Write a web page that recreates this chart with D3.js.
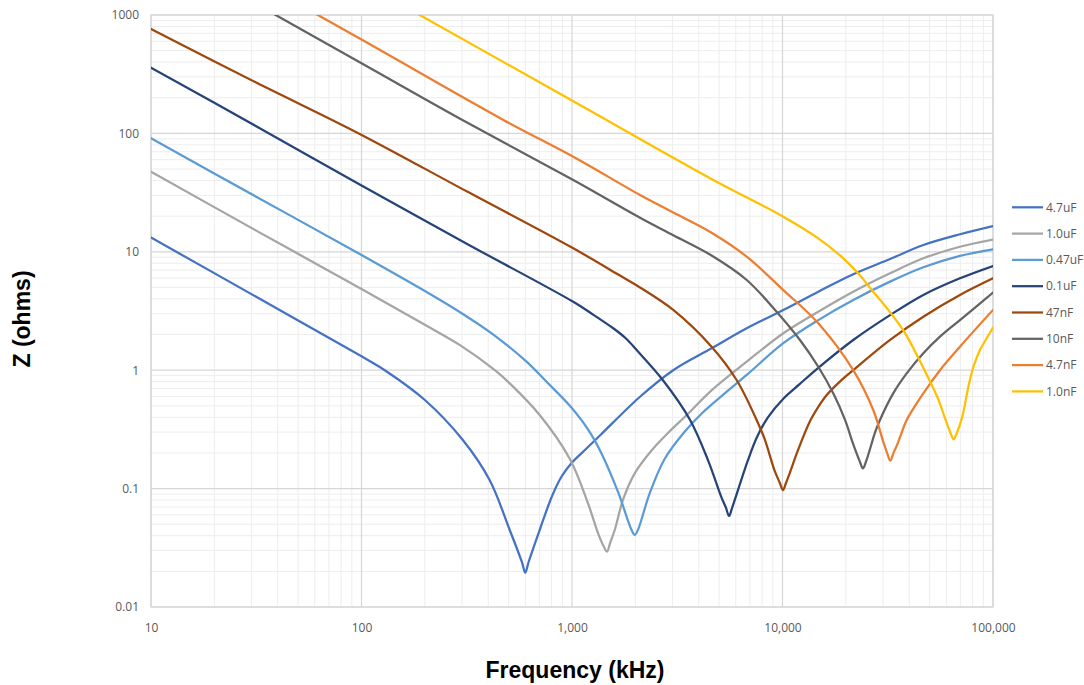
<!DOCTYPE html>
<html><head><meta charset="utf-8">
<script src="https://cdn.jsdelivr.net/npm/d3@7"></script>
<style>body{margin:0;background:#fff;} svg{display:block;}</style>
</head><body><svg id="c" width="1084" height="685"></svg>
<script>
// ---- data (frequency kHz, impedance ohms) ----
const seriesNames = ["4.7uF","1.0uF","0.47uF","0.1uF","47nF","10nF","4.7nF","1.0nF"];

const s4u7 = [[10,13.2],[31.6,4.17],[100,1.31],[129,1.0],[200,0.56],[303,0.257],[406,0.118],[506,0.0447],[578,0.024],[600,0.0195],[622,0.024],[702,0.0447],[805,0.087],[891,0.126],[1000,0.166],[1175,0.219],[1377,0.288],[2104,0.597],[3027,1.0],[4603,1.53],[6761,2.26],[10090,3.22],[14790,4.6],[21680,6.46],[32430,8.69],[46670,11.4],[69660,14.06],[100000,16.5]];

const s1u0 = [[10,47.5],[31.6,15.1],[100,4.85],[200,2.42],[295,1.62],[430,1.0],[506,0.774],[702,0.419],[977,0.178],[1191,0.0752],[1330,0.0419],[1416,0.0324],[1466,0.0293],[1517,0.0347],[1596,0.0447],[1746,0.0802],[1986,0.1346],[2382,0.209],[2858,0.295],[3548,0.427],[4603,0.676],[6761,1.18],[10090,2.05],[14790,3.12],[21680,4.6],[32430,6.58],[46670,8.81],[69660,11.04],[100000,12.7]];

const s0u47 = [[10,91],[31.6,29.2],[100,9.4],[204,4.57],[294,3.09],[423,2.0],[610,1.175],[759,0.794],[977,0.50],[1191,0.316],[1377,0.20],[1656,0.0933],[1919,0.0447],[1986,0.0406],[2056,0.0447],[2339,0.0912],[2754,0.178],[3428,0.302],[4169,0.437],[5370,0.646],[6761,0.912],[10090,1.69],[14790,2.65],[21680,3.92],[32430,5.6],[46670,7.4],[69660,9.23],[100000,10.5]];

const s0u1 = [[10,359],[31.6,115],[100,36.3],[316,11.7],[1014,3.78],[1259,2.95],[1570,2.26],[1800,1.86],[2028,1.48],[2716,0.815],[3639,0.38],[4426,0.174],[5117,0.0851],[5383,0.0692],[5572,0.0587],[5768,0.0692],[6855,0.174],[7586,0.275],[8511,0.398],[10090,0.575],[12020,0.759],[14790,1.047],[21680,1.80],[32430,2.92],[46670,4.32],[69660,5.97],[100000,7.59]];

const s47n = [[10,762],[31.6,269],[97,100],[316,32.4],[1014,10.7],[1690,6.3],[2104,5.0],[3027,3.23],[4603,1.58],[6053,0.826],[7534,0.38],[8222,0.263],[9183,0.141],[9705,0.112],[10046,0.0973],[10400,0.112],[10814,0.1346],[11858,0.212],[13521,0.372],[14790,0.49],[16220,0.617],[18620,0.794],[21680,1.0],[32430,1.80],[46670,2.83],[69660,4.32],[100000,5.97]];

const s10n = [[10,3910],[100,391],[294,133],[1014,40.4],[2104,19.4],[3027,13.8],[4603,9.3],[6761,5.78],[9376,3.12],[12106,1.80],[14790,1.07],[17420,0.638],[19820,0.38],[21630,0.24],[23280,0.170],[24100,0.148],[24950,0.170],[26300,0.229],[27420,0.293],[29040,0.38],[33570,0.638],[38900,0.94],[46670,1.39],[55980,1.92],[69660,2.65],[100000,4.52]];

const s4n7 = [[10,6200],[100,620],[472,130],[1014,63.5],[2104,30.2],[3027,21.5],[4603,14.5],[6761,9.1],[10090,4.75],[14790,2.49],[21680,1.0],[26980,0.461],[30060,0.251],[31410,0.1995],[32510,0.172],[33650,0.1995],[34750,0.226],[36730,0.293],[38900,0.38],[46670,0.638],[55980,1.0],[69660,1.58],[100000,3.23]];

const s1n0 = [[100,1888],[957,198],[4690,40.4],[10090,19.8],[14790,13.0],[19050,9.1],[22860,6.58],[26920,4.62],[32430,3.09],[38020,2.09],[45190,1.175],[54330,0.596],[59020,0.398],[62810,0.295],[65010,0.261],[67300,0.295],[71290,0.398],[76380,0.724],[80720,1.07],[86700,1.48],[93330,1.86],[100000,2.29]];

const seriesData = [s4u7, s1u0, s0u47, s0u1, s47n, s10n, s4n7, s1n0];

const xTickValues = [10,100,1000,10000,100000];
const xTickLabels = ["10","100","1,000","10,000","100,000"];
const yTickValues = [0.01,0.1,1,10,100,1000];
const yTickLabels = ["0.01","0.1","1","10","100","1000"];
const xTitle = "Frequency (kHz)";
const yTitle = "Z (ohms)";

// ---- styles ----
const colors = ["#4472C4","#A5A5A5","#5B9BD5","#264478","#9E480E","#636363","#ED7D31","#FFC000"];
const tickFont = "'Open Sans', 'DejaVu Sans', sans-serif";

const svg = d3.select("#c");
const m = {l:151, r:993, t:15, b:607};
const x = d3.scaleLog().domain([10,1e5]).range([m.l, m.r]);
const y = d3.scaleLog().domain([0.01,1000]).range([m.b, m.t]);

// minor gridlines
const minorX = [], minorY = [];
[10,100,1000,10000].forEach(d => { for (let k=2;k<=9;k++) minorX.push(d*k); });
[0.01,0.1,1,10,100].forEach(d => { for (let k=2;k<=9;k++) minorY.push(d*k); });

const grid = svg.append("g");
grid.selectAll("line.mx").data(minorX).join("line")
  .attr("x1", d=>x(d)).attr("x2", d=>x(d)).attr("y1", m.t).attr("y2", m.b)
  .attr("stroke", "#ededed").attr("stroke-width", 1);
grid.selectAll("line.my").data(minorY).join("line")
  .attr("y1", d=>y(d)).attr("y2", d=>y(d)).attr("x1", m.l).attr("x2", m.r)
  .attr("stroke", "#ededed").attr("stroke-width", 1);
grid.selectAll("line.Mx").data(xTickValues).join("line")
  .attr("x1", d=>x(d)).attr("x2", d=>x(d)).attr("y1", m.t).attr("y2", m.b)
  .attr("stroke", "#d6d6d6").attr("stroke-width", 1.2);
grid.selectAll("line.My").data(yTickValues).join("line")
  .attr("y1", d=>y(d)).attr("y2", d=>y(d)).attr("x1", m.l).attr("x2", m.r)
  .attr("stroke", "#d6d6d6").attr("stroke-width", 1.2);
svg.append("rect").attr("x", m.l).attr("y", m.t).attr("width", m.r-m.l).attr("height", m.b-m.t)
  .attr("fill","none").attr("stroke","#d6d6d6").attr("stroke-width",1.2);

// axes
const xAxis = svg.append("g").attr("transform", `translate(0,${m.b})`)
  .call(d3.axisBottom(x).tickValues(xTickValues).tickFormat((d,i)=>xTickLabels[i]).tickSize(0).tickPadding(16));
const yAxis = svg.append("g").attr("transform", `translate(${m.l},0)`)
  .call(d3.axisLeft(y).tickValues(yTickValues).tickFormat((d,i)=>yTickLabels[i]).tickSize(0).tickPadding(12));
[xAxis, yAxis].forEach(a => {
  a.select(".domain").remove();
  a.selectAll("text").attr("fill","#595959").style("font-family", tickFont).style("font-size","12px");
});

// series
svg.append("clipPath").attr("id","plotclip").append("rect")
  .attr("x", m.l).attr("y", m.t).attr("width", m.r-m.l).attr("height", m.b-m.t);
const line = d3.line().x(d=>x(d[0])).y(d=>y(d[1])).curve(d3.curveCatmullRom.alpha(0.5));
svg.append("g").attr("clip-path","url(#plotclip)")
  .selectAll("path").data(seriesData).join("path")
  .attr("d", line).attr("fill","none")
  .attr("stroke", (d,i)=>colors[i]).attr("stroke-width", 2.25)
  .attr("stroke-linejoin","round").attr("stroke-linecap","round");

// legend
const lg = svg.append("g").selectAll("g").data(seriesNames).join("g")
  .attr("transform", (d,i)=>`translate(1012,${207.3 + i*26.3})`);
lg.append("line").attr("x1",0).attr("x2",31).attr("y1",0).attr("y2",0)
  .attr("stroke",(d,i)=>colors[i]).attr("stroke-width",2.25);
lg.append("text").attr("x",34).attr("y",0).attr("dy","0.35em").text(d=>d)
  .attr("fill","#595959").style("font-family", tickFont).style("font-size","12px");

// titles
svg.append("text").attr("x", 575).attr("y", 678).attr("text-anchor","middle")
  .style("font-family","'Liberation Sans', Arial, sans-serif").style("font-weight","bold").style("font-size","23px")
  .attr("fill","#000").text(xTitle);
svg.append("text").attr("transform","translate(22,319) rotate(-90)").attr("dy","0.35em").attr("text-anchor","middle")
  .style("font-family","'Liberation Sans', Arial, sans-serif").style("font-weight","bold").style("font-size","23px")
  .attr("fill","#000").text(yTitle);
</script>
</body></html>
